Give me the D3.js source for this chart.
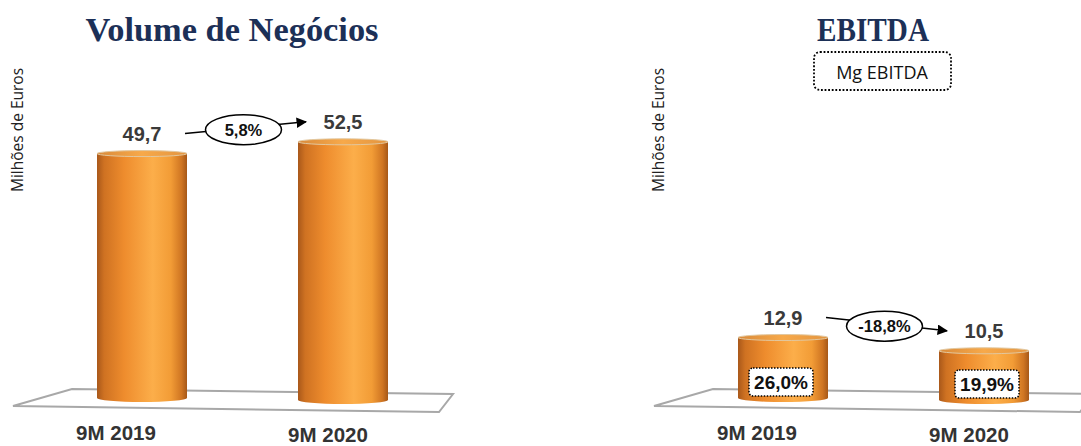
<!DOCTYPE html>
<html>
<head>
<meta charset="utf-8">
<script src="https://cdn.jsdelivr.net/npm/d3@7"></script>
<style>
  body { margin: 0; background: #fff; }
  svg { display: block; }
</style>
</head>
<body>
<svg id="chart" width="1081" height="446"></svg>
<script>
const categories = ["9M 2019", "9M 2020"];
const volumeValues = [49.7, 52.5];
const ebitdaValues = [12.9, 10.5];
const ebitdaMargins = [26.0, 19.9];
const volumeGrowth = 5.8;
const ebitdaGrowth = -18.8;

// Portuguese style: comma decimal, plain hyphen for negatives
const fmt = (v) => d3.format(".1f")(v).replace(".", ",").replace("\u2212", "-");
const fmtPct = (v) => fmt(v) + "%";

const svg = d3.select("#chart");
const defs = svg.append("defs");

// cylinder body shading
let grad = defs.append("linearGradient").attr("id", "cyl").attr("x1", "0%").attr("x2", "100%");
[[0, "#a9581a"], [8, "#cf7222"], [30, "#ee8c2d"], [62, "#fcae4a"], [82, "#f29c36"], [94, "#cf7522"], [100, "#a65818"]]
  .forEach(s => grad.append("stop").attr("offset", s[0] + "%").attr("stop-color", s[1]));
let gradTop = defs.append("linearGradient").attr("id", "cylTop").attr("x1", "0%").attr("x2", "100%");
[[0, "#d98a3a"], [50, "#f7a94a"], [100, "#e39540"]]
  .forEach(s => gradTop.append("stop").attr("offset", s[0] + "%").attr("stop-color", s[1]));

defs.append("marker")
    .attr("id", "arrow")
    .attr("viewBox", "0 0 10 10")
    .attr("refX", 9).attr("refY", 5)
    .attr("markerWidth", 7).attr("markerHeight", 7)
    .attr("markerUnits", "strokeWidth")
    .attr("orient", "auto")
  .append("path")
    .attr("d", "M0,0 L10,5 L0,10 z")
    .attr("fill", "#000");

const barWidth = 90;
const baseY = [398, 400];   // floor perspective: second bar sits a bit lower
const labelShift = [-26, -15];

function drawPanel(offsetX, opts) {
  let g = svg.append("g").attr("transform", "translate(" + offsetX + ",0)");

  let x = d3.scalePoint().domain(categories).range([142, 343]);
  let h = d3.scaleLinear().domain([0, opts.yMax]).range([0, 300]);
  let top = (d, i) => baseY[i] - h(d);

  // title
  g.append("text")
   .attr("x", 232).attr("y", 41)
   .attr("text-anchor", "middle")
   .attr("textLength", opts.titleWidth)
   .attr("lengthAdjust", "spacingAndGlyphs")
   .style("font-family", "'Liberation Serif', serif")
   .style("font-weight", "bold")
   .style("font-size", "33px")
   .style("fill", "#1c3057")
   .text(opts.title);

  // y-axis label
  g.append("text")
   .attr("transform", "translate(23,130) rotate(-90)")
   .attr("text-anchor", "middle")
   .style("font-family", "'Open Sans', sans-serif")
   .style("font-size", "15.5px")
   .style("fill", "#222")
   .text("Milhões de Euros");

  // floor
  g.append("polygon")
   .attr("points", "13,406 72,389 453,394 439,412")
   .style("fill", "none")
   .style("stroke", "#a8a8a8")
   .style("stroke-width", 2);

  // cylinders
  let bars = g.selectAll(".bar")
    .data(opts.values)
    .enter().append("g")
    .attr("class", "bar");

  bars.append("path")
      .attr("d", (d, i) => {
        let cx = x(categories[i]), r = barWidth / 2, yt = top(d, i), yb = baseY[i];
        return "M" + (cx - r) + "," + yt +
               " L" + (cx - r) + "," + yb +
               " A" + r + ",4 0 0 0 " + (cx + r) + "," + yb +
               " L" + (cx + r) + "," + yt + " Z";
      })
      .style("fill", "url(#cyl)");

  bars.append("ellipse")
      .attr("cx", (d, i) => x(categories[i]))
      .attr("cy", (d, i) => top(d, i))
      .attr("rx", barWidth / 2)
      .attr("ry", 3)
      .style("fill", "url(#cylTop)")
      .style("stroke", "#e2c79e")
      .style("stroke-width", 1);

  // value labels
  g.selectAll(".value")
   .data(opts.values)
   .enter().append("text")
   .attr("class", "value")
   .attr("x", (d, i) => x(categories[i]))
   .attr("y", (d, i) => top(d, i) - 13)
   .attr("text-anchor", "middle")
   .style("font-family", "'Liberation Sans', Arial, sans-serif")
   .style("font-weight", "bold")
   .style("font-size", "20px")
   .style("fill", "#3a3a3a")
   .text(fmt);

  // category labels
  g.selectAll(".cat")
   .data(categories)
   .enter().append("text")
   .attr("class", "cat")
   .attr("x", (d, i) => x(d) + labelShift[i])
   .attr("y", (d, i) => 440 + i * 2)
   .attr("text-anchor", "middle")
   .style("font-family", "'Liberation Sans', Arial, sans-serif")
   .style("font-weight", "bold")
   .style("font-size", "20.5px")
   .style("fill", "#333")
   .text(d => d);

  // growth arrow with ellipse
  let x0 = x(categories[0]) + 43, y0 = top(opts.values[0], 0) - 20;
  let x1 = x(categories[1]) - 37, y1 = top(opts.values[1], 1) - 20;
  g.append("line")
   .attr("x1", x0).attr("y1", y0)
   .attr("x2", x1).attr("y2", y1)
   .style("stroke", "#000")
   .style("stroke-width", 1.5)
   .attr("marker-end", "url(#arrow)");

  let ex = (x0 + x1) / 2 - 2, ey = (y0 + y1) / 2 + 2;
  g.append("ellipse")
   .attr("cx", ex).attr("cy", ey)
   .attr("rx", 38).attr("ry", 15)
   .style("fill", "#fff")
   .style("stroke", "#000")
   .style("stroke-width", 1.5);
  g.append("text")
   .attr("x", ex).attr("y", ey + 6)
   .attr("text-anchor", "middle")
   .style("font-family", "'Liberation Sans', Arial, sans-serif")
   .style("font-weight", "bold")
   .style("font-size", "16.5px")
   .style("fill", "#111")
   .text(fmtPct(opts.growth));

  return {g: g, x: x, top: top};
}

drawPanel(0, {title: "Volume de Negócios", titleWidth: 293, values: volumeValues, yMax: 61, growth: volumeGrowth});
let right = drawPanel(641, {title: "EBITDA", titleWidth: 112, values: ebitdaValues, yMax: 64, growth: ebitdaGrowth});

// Mg EBITDA legend box
right.g.append("rect")
   .attr("x", 173).attr("y", 52)
   .attr("width", 137).attr("height", 38)
   .attr("rx", 6)
   .style("fill", "#fff")
   .style("stroke", "#000")
   .style("stroke-width", 1.8)
   .style("stroke-dasharray", "1.8,1.8");
right.g.append("text")
   .attr("x", 241).attr("y", 79)
   .attr("text-anchor", "middle")
   .style("font-family", "'Open Sans', sans-serif")
   .style("font-size", "18px")
   .style("fill", "#111")
   .text("Mg EBITDA");

// margin boxes inside EBITDA bars
let mg = right.g.selectAll(".mg")
   .data(ebitdaMargins)
   .enter().append("g")
   .attr("class", "mg")
   .attr("transform", (d, i) => "translate(" + (right.x(categories[i]) + (i === 0 ? -2 : 3)) + "," + (baseY[i] - 16) + ")");
mg.append("rect")
   .attr("x", -32).attr("y", -14)
   .attr("width", 64).attr("height", 28)
   .attr("rx", 4)
   .style("fill", "#fff")
   .style("stroke", "#000")
   .style("stroke-width", 1.5)
   .style("stroke-dasharray", "1.5,1.5");
mg.append("text")
   .attr("y", 7)
   .attr("text-anchor", "middle")
   .style("font-family", "'Liberation Sans', Arial, sans-serif")
   .style("font-weight", "bold")
   .style("font-size", "19px")
   .style("fill", "#111")
   .text(fmtPct);
</script>
</body>
</html>
